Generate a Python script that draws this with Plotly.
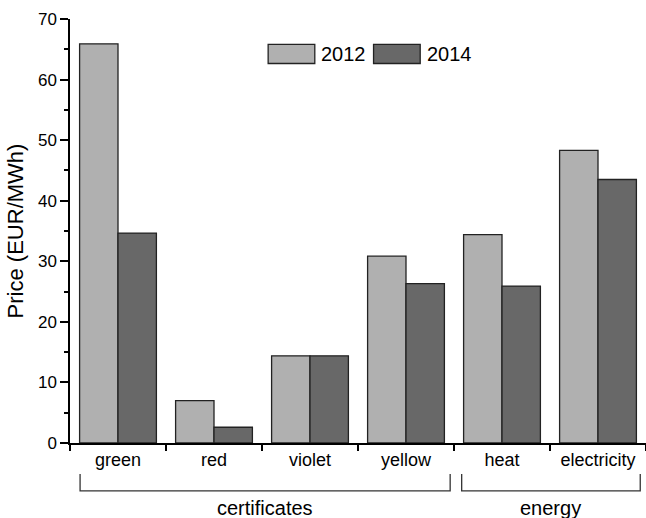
import plotly.graph_objects as go

# Prices in EUR/MWh for each certificate / energy category
categories = ["green", "red", "violet", "yellow", "heat", "electricity"]
years = ["2012", "2014"]
price_2012 = [65.9, 7.0, 14.4, 30.85, 34.4, 48.3]
price_2014 = [34.65, 2.6, 14.4, 26.3, 25.9, 43.5]
groups = [("certificates", 0, 3), ("energy", 4, 5)]

series = [price_2012, price_2014]
colors = ["#b0b0b0", "#686868"]
FONT = "Liberation Sans, Arial, sans-serif"

fig = go.Figure()
for name, vals, col in zip(years, series, colors):
    fig.add_trace(go.Bar(
        x=categories, y=vals, name=name,
        marker=dict(color=col, line=dict(color="#222222", width=1.3)),
        showlegend=False,
    ))

# Legend drawn as wide swatches with labels, in paper coordinates
legend_x = [0.344, 0.527]
for name, col, lx in zip(years, colors, legend_x):
    fig.add_shape(type="rect", xref="paper", yref="paper",
                  x0=lx, x1=lx + 0.081, y0=0.895, y1=0.94,
                  fillcolor=col, line=dict(color="#222222", width=1.3))
    fig.add_annotation(text=name, xref="paper", yref="paper",
                       x=lx + 0.089, y=0.918, xanchor="left", yanchor="middle",
                       showarrow=False, font=dict(family=FONT, size=20, color="black"))

# Group brackets below the category labels
bracket_spans = {"certificates": (-0.395, 3.46), "energy": (3.58, 5.44)}
for label, i0, i1 in groups:
    x0, x1 = bracket_spans[label]
    fig.add_shape(type="path", xref="x", yref="paper",
                  path=f"M {x0},-0.073 L {x0},-0.113 L {x1},-0.113 L {x1},-0.073",
                  line=dict(color="#333333", width=1.3))
    fig.add_annotation(text=label, xref="x", yref="paper",
                       x=(x0 + x1) / 2, y=-0.153, xanchor="center", yanchor="middle",
                       showarrow=False, font=dict(family=FONT, size=20, color="black"))

fig.update_layout(
    width=646, height=518,
    margin=dict(l=70, r=0, t=19, b=75),
    paper_bgcolor="white", plot_bgcolor="white",
    barmode="group", bargap=0.2, bargroupgap=0,
    font=dict(family=FONT, color="black"),
)
fig.update_xaxes(
    type="category", range=[-0.5, 5.5],
    showline=True, linecolor="black", linewidth=1.5,
    ticks="outside", tickson="boundaries", ticklen=6, tickwidth=1.5, tickcolor="black",
    tickfont=dict(family=FONT, size=18, color="black"),
    showgrid=False, zeroline=False,
)
fig.update_yaxes(
    range=[0, 70], dtick=10,
    showline=True, linecolor="black", linewidth=1.5,
    ticks="outside", ticklen=8, tickwidth=1.5, tickcolor="black",
    minor=dict(ticks="outside", ticklen=4, dtick=5, tickwidth=1.5, tickcolor="black"),
    tickfont=dict(family=FONT, size=17, color="black"),
    title=dict(text="Price (EUR/MWh)", font=dict(family=FONT, size=22, color="black"), standoff=8),
    showgrid=False, zeroline=False,
)

fig.write_html("out.html")
